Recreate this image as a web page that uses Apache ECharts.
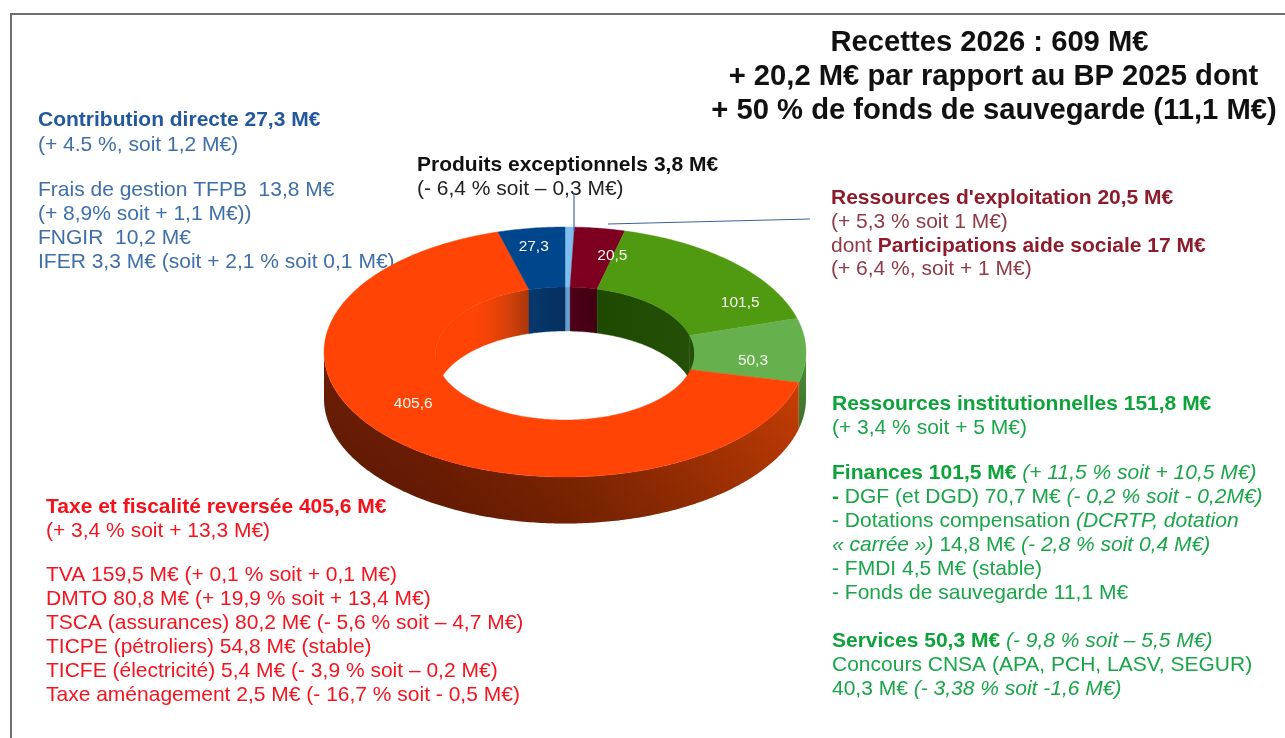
<!DOCTYPE html>
<html><head><meta charset="utf-8">
<style>html,body{margin:0;padding:0;background:#fff}#c{width:1285px;height:738px}</style>
<script src="https://cdn.jsdelivr.net/npm/echarts@6/dist/echarts.min.js"></script>
</head><body><div id="c"></div>
<script>
// ---- data (clockwise from 12 o'clock) ----
const categories = ['Produits exceptionnels','Ressources d\'exploitation','Finances','Services','Taxe et fiscalité reversée','Contribution directe'];
const values = [3.8, 20.5, 101.5, 50.3, 405.6, 27.3];
const valueLabels = ['', '20,5', '101,5', '50,3', '405,6', '27,3'];
const titleLines = ['Recettes 2026 : 609 M€','+ 20,2 M€ par rapport au BP 2025 dont','+ 50 % de fonds de sauvegarde (11,1 M€)'];
const blueLines = ['{b|Contribution directe 27,3 M€}','{r|(+ 4.5 %, soit 1,2 M€)}','{r|Frais de gestion TFPB  13,8 M€}','{r|(+ 8,9% soit + 1,1 M€))}','{r|FNGIR  10,2 M€}','{r|IFER 3,3 M€ (soit + 2,1 % soit 0,1 M€)}'];
const blackLines = ['{b|Produits exceptionnels 3,8 M€}','{r|(- 6,4 % soit – 0,3 M€)}'];
const maroonLines = ['{b|Ressources d\'exploitation 20,5 M€}','{r|(+ 5,3 % soit 1 M€)}','{r|dont }{b|Participations aide sociale 17 M€}','{r|(+ 6,4 %, soit + 1 M€)}'];
const greenLines = ['{b|Ressources institutionnelles 151,8 M€}','{r|(+ 3,4 % soit + 5 M€)}','{b|Finances 101,5 M€ }{i|(+ 11,5 % soit + 10,5 M€)}','{b|- }{r|DGF (et DGD) 70,7 M€ }{i|(- 0,2 % soit - 0,2M€)}','{r|- Dotations compensation }{i|(DCRTP, dotation}','{i|« carrée ») }{r|14,8 M€ }{i|(- 2,8 % soit 0,4 M€)}','{r|- FMDI 4,5 M€ (stable)}','{r|- Fonds de sauvegarde 11,1 M€}','{b|Services 50,3 M€ }{i|(- 9,8 % soit – 5,5 M€)}','{r|Concours CNSA (APA, PCH, LASV, SEGUR)}','{r|40,3 M€ }{i|(- 3,38 % soit -1,6 M€)}'];
const redLines = ['{b|Taxe et fiscalité reversée 405,6 M€}','{r|(+ 3,4 % soit + 13,3 M€)}','{r|TVA 159,5 M€ (+ 0,1 % soit + 0,1 M€)}','{r|DMTO 80,8 M€ (+ 19,9 % soit + 13,4 M€)}','{r|TSCA (assurances) 80,2 M€ (- 5,6 % soit – 4,7 M€)}','{r|TICPE (pétroliers) 54,8 M€ (stable)}','{r|TICFE (électricité) 5,4 M€ (- 3,9 % soit – 0,2 M€)}','{r|Taxe aménagement 2,5 M€ (- 16,7 % soit - 0,5 M€)}'];

// ---- styles / layout ----
const FONT = '"Liberation Sans", Arial, sans-serif';
const cx = 565, cy = 352, RX = 241, RY = 125, rx = 129.5, ry = 66.5, DEPTH = 46.5, HOLE_DY = 1.5, HOLE_DEPTH = 44;
const BODY = 21;
const topColors = ['#7dbdf0','#7e0021','#4f9a10','#66b04d','#ff4406','#00468c'];
const G = (x0,y0,x1,y1,stops)=>new echarts.graphic.LinearGradient(x0,y0,x1,y1,stops.map((c,i)=>({offset:i/(stops.length-1),color:c})));
const outerWall = [ ['#5e93c8','#5e93c8'], ['#4a0014','#4a0014'], ['#2c5c08','#2c5c08'], ['#4d8f38','#4d8f38'], ['#6e1e05','#7d2102','#902902','#ae3403','#cf4004'], ['#00305f','#00305f'] ];
const innerWall = [ ['#5c96cc','#6fa8d8'], ['#4e0018','#420012'], ['#1d4a00','#234f06'], ['#234f06','#234f06'], ['#ff4406','#ff4406','#ff4406','#f04305','#d0400a','#a83609'], ['#07386d','#052f5e'] ];
const labelKX = [0, 1.36, 1.04, 0.78, 0.907, 0.925];
const labelKY = [0, 0.79, 0.567, 1, 0.567, 0.855];
const labelDY = [0, 1, 1, 10, 1, 1];

// ---- cumulative angles derived from values ----
const total = values.reduce((a,b)=>a+b,0);
let acc = 0;
const sliceData = values.map((v,i)=>{const s=acc/total*Math.PI*2; acc+=v; return [s, acc/total*Math.PI*2, v, i];});

const P = (a,R1,R2,dy)=>[cx+R1*Math.sin(a), cy-R2*Math.cos(a)+(dy||0)];
function arc(a0,a1,R1,R2,dy){const n=Math.max(2,Math.ceil(Math.abs(a1-a0)/0.012));const o=[];for(let k=0;k<=n;k++)o.push(P(a0+(a1-a0)*k/n,R1,R2,dy));return o;}

function renderOuter(p,api){
  const a0=Math.max(api.value(0),Math.PI/2), a1=Math.min(api.value(1),Math.PI*1.5), i=api.value(3);
  if(a1<=a0) return {type:'group',children:[]};
  const pts=arc(a0,a1,RX,RY,0).concat(arc(a1,a0,RX,RY,DEPTH));
  return {type:'group',children:[
    {type:'polygon',shape:{points:pts},style:{fill:G(0,0,1,0,outerWall[i])}},
    {type:'polygon',shape:{points:pts},style:{fill:G(0,0,0,1,['rgba(0,0,0,0)','rgba(0,0,0,0.22)'])}}
  ]};
}
function renderInner(p,api){
  const s=api.value(0), e=api.value(1), i=api.value(3);
  const segs=[];
  const a=Math.min(e,Math.PI/2); if(a>s) segs.push([s,a]);
  const b=Math.max(s,Math.PI*1.5); if(e>b) segs.push([b,e]);
  return {type:'group',children:segs.map(g=>({type:'polygon',
    shape:{points:arc(g[0],g[1],rx,ry,HOLE_DY).concat(arc(g[1],g[0],rx,ry,HOLE_DY+HOLE_DEPTH))},
    style:{fill:G(0,0,1,0,innerWall[i]),stroke:G(0,0,1,0,innerWall[i]),lineWidth:0.4}}))};
}
function renderTop(p,api){
  const s=api.value(0), e=api.value(1), i=api.value(3), m=(s+e)/2;
  const kids=[{type:'polygon',shape:{points:arc(s,e,RX,RY,0).concat(arc(e,s,rx,ry,HOLE_DY))},
    style:{fill:topColors[i],stroke:topColors[i],lineWidth:0.4}}];
  if(valueLabels[i]) kids.push({type:'text',x:cx+RX*labelKX[i]*Math.sin(m),y:cy-RY*labelKY[i]*Math.cos(m)+labelDY[i],z2:5,
    style:{text:valueLabels[i],font:'15.5px '+FONT,fill:'#f6f6f0',align:'center',verticalAlign:'middle'}});
  return {type:'group',children:kids};
}

// ---- text blocks ----
function block(lines,x,ys,colors,size){
  return lines.map((t,i)=>({type:'text',x:x,y:ys[i],silent:true,style:{text:t,verticalAlign:'middle',align:'left',
    rich:{b:{fontFamily:FONT,fontSize:size,fontWeight:'bold',fill:colors.b},
          r:{fontFamily:FONT,fontSize:size,fill:colors.r},
          i:{fontFamily:FONT,fontSize:size,fontStyle:'italic',fill:colors.r}}}}));
}
const titleEls = titleLines.map((t,i)=>({type:'text',x:[989.5,993.5,994][i],y:[43,77,111][i],silent:true,
  style:{text:t,font:'bold 29.2px '+FONT,fill:'#111',align:'center',verticalAlign:'middle'}}));
const line=(x1,y1,x2,y2,c,w)=>({type:'line',silent:true,z:w>1.5?0:20,shape:{x1,y1,x2,y2},style:{stroke:c,lineWidth:w}});

const graphicEls = [
  line(11,14,1285,14,'#6e6e6e',2), line(11,13,11,738,'#6e6e6e',2),
  line(574,193,574,231,'#4a6aa6',1.2), line(608,224,810,219,'#3f5fa0',1.2),
  ...titleEls,
  ...block(blueLines,38,[120.5,145.5,190.5,214.5,238.5,262.5],{b:'#23589c',r:'#3f6fa8'},BODY),
  ...block(blackLines,417,[165.5,189.5],{b:'#111',r:'#222'},BODY),
  ...block(maroonLines,831,[198.5,222.5,246.5,269.5],{b:'#8c1c2c',r:'#8f3a46'},BODY),
  ...block(greenLines,832,[404.5,428.5,473.5,497.5,521.5,545.5,569.5,593.5,641.5,665.5,689.5],{b:'#0ea33a',r:'#19a648'},BODY),
  ...block(redLines,46,[507.5,531.5,575.5,599.5,623.5,647.5,671.5,695.5],{b:'#f5101a',r:'#f5141e'},BODY)
];

const chart = echarts.init(document.getElementById('c'),null,{renderer:'canvas'});
chart.setOption({
  animation:false, backgroundColor:'#fff',
  graphic:{elements:graphicEls},
  series:[
    {type:'custom',name:'sides',coordinateSystem:'none',z:1,silent:true,renderItem:renderOuter,data:sliceData},
    {type:'custom',name:'inner',coordinateSystem:'none',z:2,silent:true,renderItem:renderInner,data:sliceData},
    {type:'custom',name:'top',coordinateSystem:'none',z:3,silent:true,renderItem:renderTop,data:sliceData}
  ]
});
</script></body></html>
